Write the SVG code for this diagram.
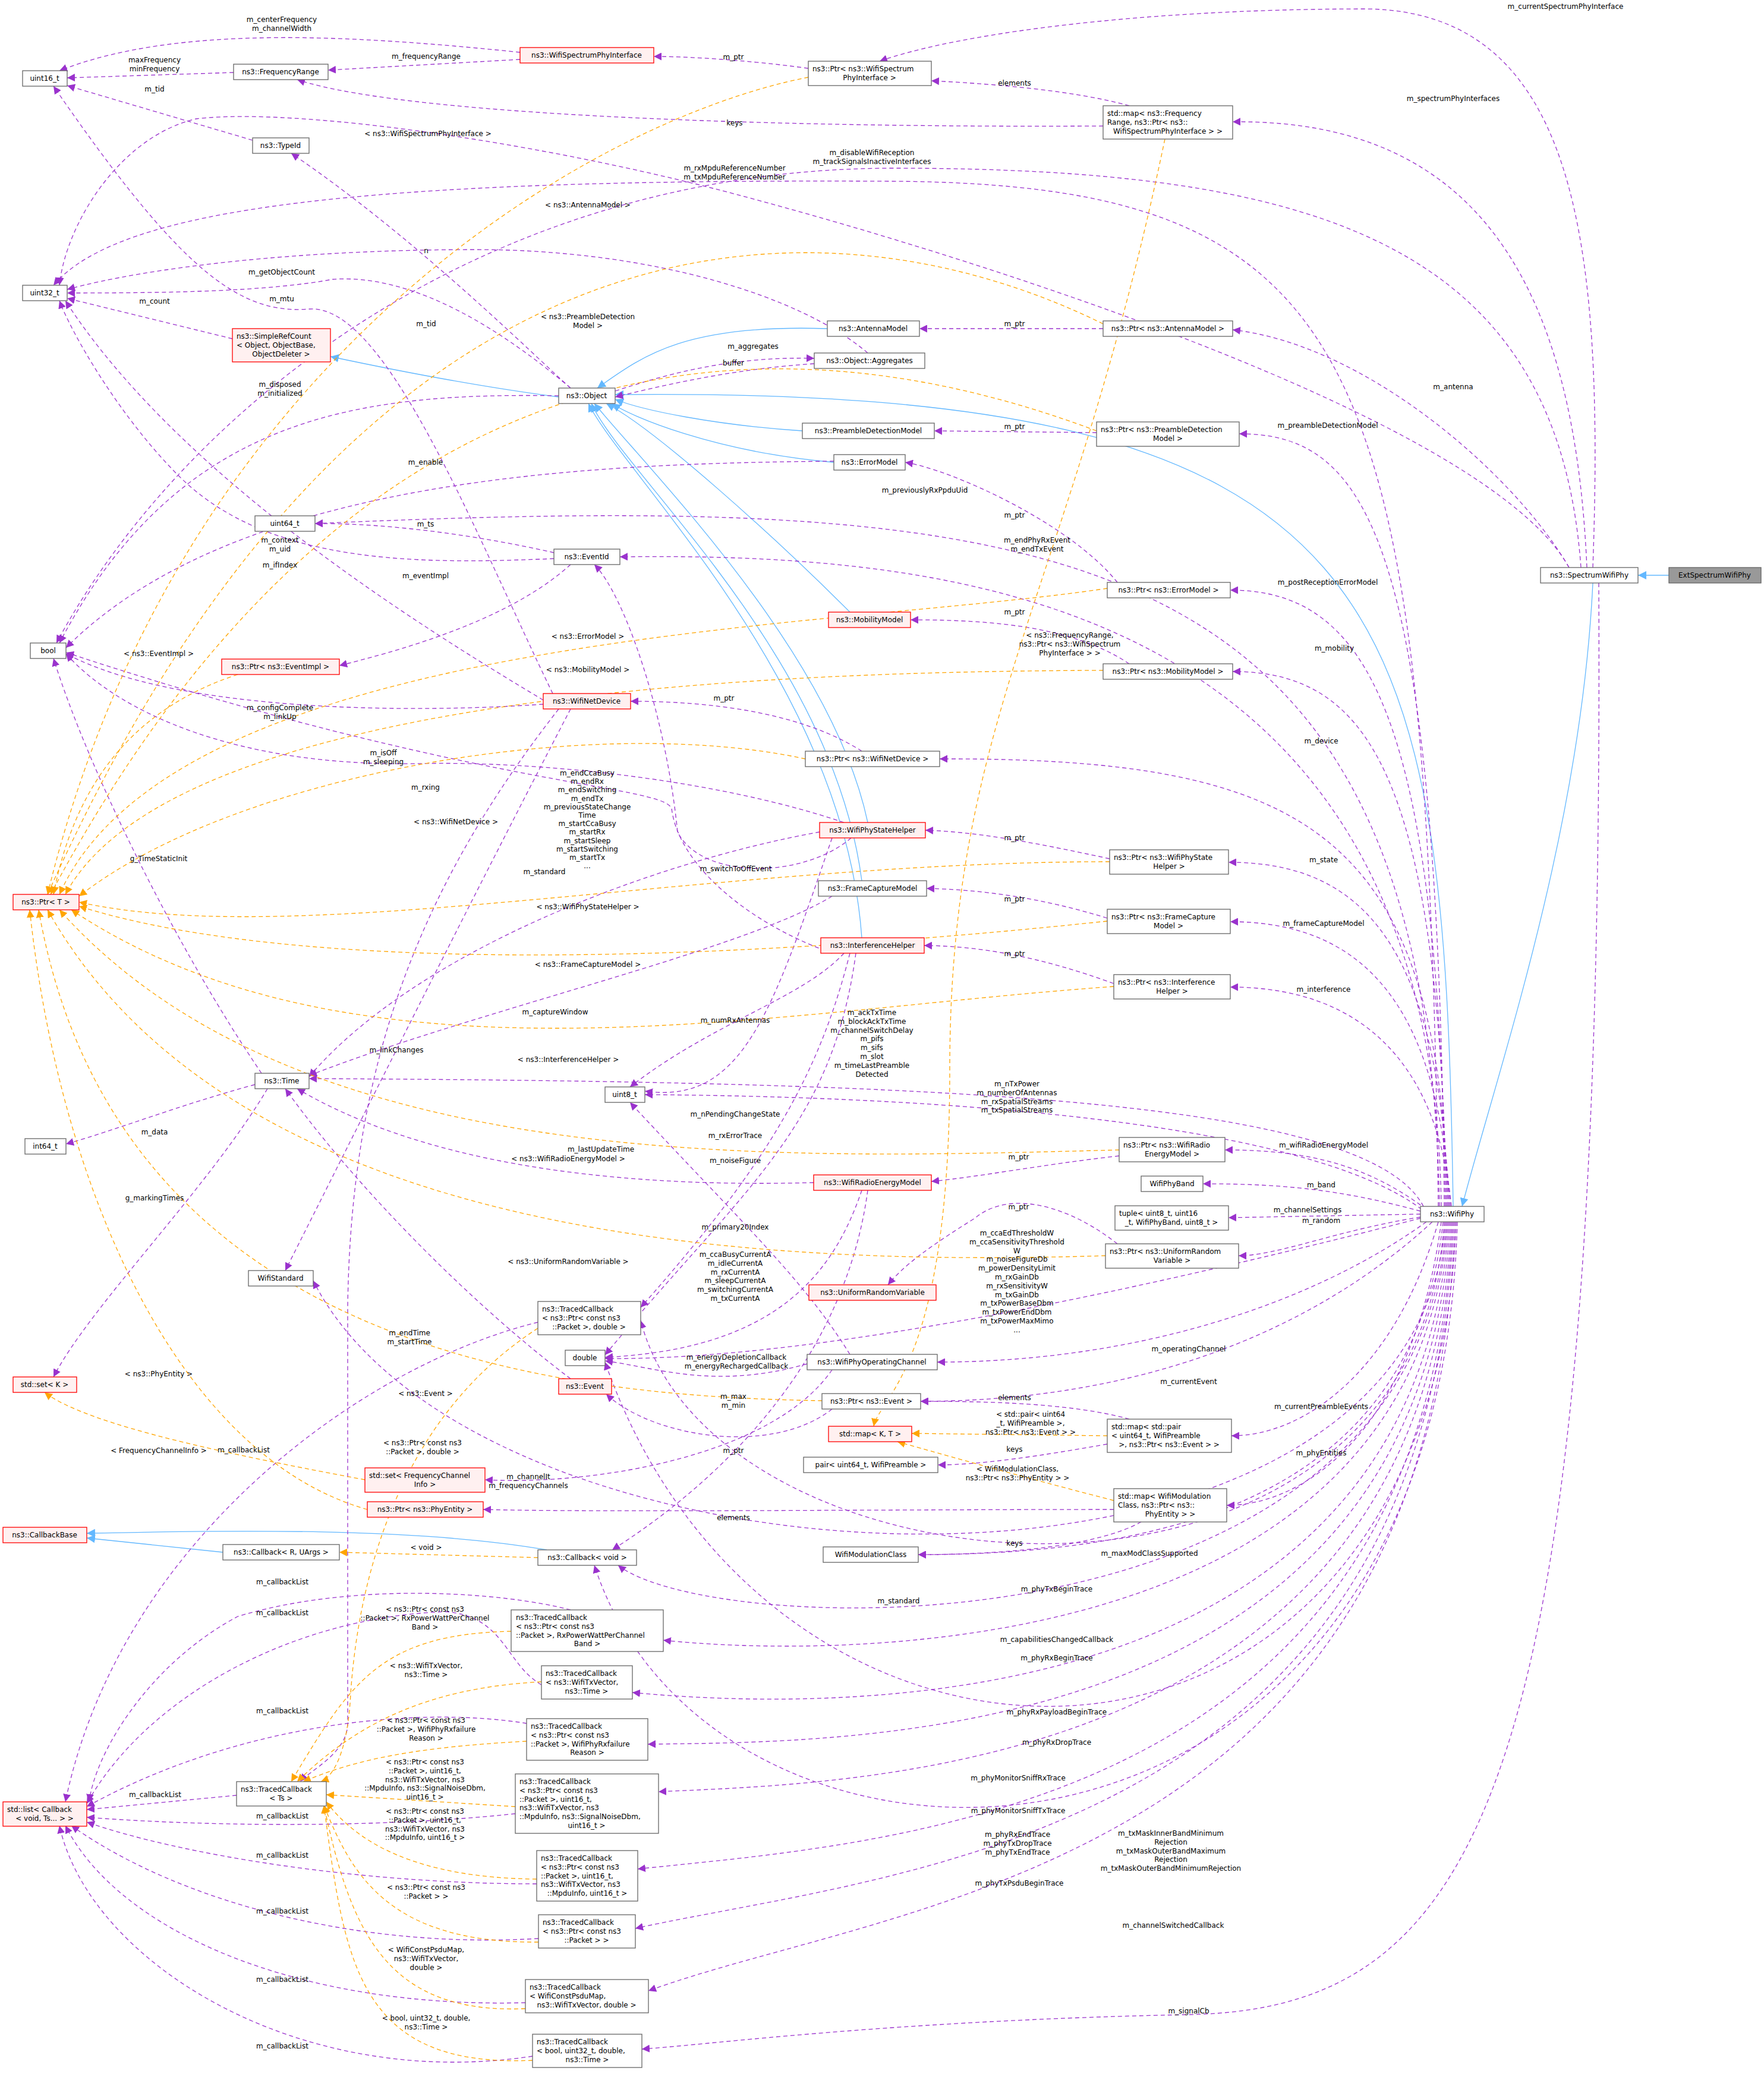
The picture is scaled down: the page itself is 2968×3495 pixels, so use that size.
<svg xmlns="http://www.w3.org/2000/svg" width="2968" height="3495" viewBox="0 0 2968 3495">
<style>
text{font-family:"DejaVu Sans",sans-serif;font-size:12px;fill:#000}
.m{text-anchor:middle}
rect.n{fill:#fff;stroke:#666;stroke-width:1.3}
rect.r{fill:#fff0f0;stroke:#f00;stroke-width:1.3}
rect.g{fill:#999;stroke:#666;stroke-width:1.3}
path.p{fill:none;stroke:#9a32cd;stroke-width:1.3;stroke-dasharray:7,5;marker-end:url(#mp)}
path.o{fill:none;stroke:#ffa500;stroke-width:1.3;stroke-dasharray:7,5;marker-end:url(#mo)}
path.b{fill:none;stroke:#63b8ff;stroke-width:1.3;marker-end:url(#mb)}
</style>
<defs>
<marker id="mp" viewBox="0 0 10 10" refX="10" refY="5" markerWidth="13" markerHeight="13" markerUnits="userSpaceOnUse" orient="auto"><path d="M0,0L10,5L0,10z" fill="#9a32cd"/></marker>
<marker id="mo" viewBox="0 0 10 10" refX="10" refY="5" markerWidth="13" markerHeight="13" markerUnits="userSpaceOnUse" orient="auto"><path d="M0,0L10,5L0,10z" fill="#ffa500"/></marker>
<marker id="mb" viewBox="0 0 10 10" refX="10" refY="5" markerWidth="14" markerHeight="14" markerUnits="userSpaceOnUse" orient="auto"><path d="M0,0L10,5L0,10z" fill="#63b8ff"/></marker>
</defs>
<rect width="2968" height="3495" fill="#fff"/>
<g id="edges">
<path class="b" d="M2808,968L2756,968"/>
<path class="b" d="M2680,981C2660,1400 2520,1800 2460,2030"/>
<path class="b" d="M2445,2030C2430,1000 2350,650 1035,664"/>
<path class="b" d="M1392,553C1150,545 1080,600 1005,653"/>
<path class="b" d="M1350,725C1200,715 1080,690 1035,672"/>
<path class="b" d="M1403,778C1200,760 1060,700 1030,679"/>
<path class="b" d="M1430,1030C1300,900 1100,720 1020,679"/>
<path class="b" d="M1460,1384C1400,1100 1100,800 1000,679"/>
<path class="b" d="M1450,1482C1400,1100 1050,800 995,679"/>
<path class="b" d="M1450,1578C1420,1150 1050,800 990,679"/>
<path class="b" d="M940,668C800,650 650,620 556,600"/>
<path class="b" d="M375,2612L146,2588"/>
<path class="b" d="M920,2608C700,2570 400,2575 146,2580"/>

<path class="p" d="M2680,955C2700,400 2650,20 2300,15C1900,15 1600,60 1480,103"/>
<path class="p" d="M2670,955C2650,500 2500,200 2074,205"/>
<path class="p" d="M2640,955C2550,800 2300,580 2074,555"/>
<path class="p" d="M2690,981C2700,3000 2500,3380 2000,3390C1500,3400 1200,3440 1080,3448"/>
<path class="p" d="M2660,955C2620,400 2200,283 1500,283C800,285 300,700 95,1082"/>
<path class="p" d="M2640,955C2500,700 1600,420 1200,317C900,240 500,180 330,200C200,230 110,380 100,480"/>
<path class="p" d="M2420,2030C2400,600 2300,310 1500,305C600,300 200,350 90,480"/>
<path class="p" d="M2430,2030C2420,900 2300,730 2085,730"/>
<path class="p" d="M2432,2030C2420,1200 2300,993 2070,993"/>
<path class="p" d="M2434,2030C2420,1300 2300,1130 2074,1130"/>
<path class="p" d="M2436,2030C2420,1400 2200,1275 1581,1277"/>
<path class="p" d="M2438,2030C2420,1600 2300,1451 2067,1451"/>
<path class="p" d="M2440,2030C2420,1700 2300,1551 2070,1551"/>
<path class="p" d="M2442,2030C2420,1800 2300,1661 2070,1661"/>
<path class="p" d="M2400,2035C2300,1960 2200,1935 2061,1935"/>
<path class="p" d="M2390,2038C2250,2000 2150,1992 2024,1992"/>
<path class="p" d="M2390,2043L2067,2049"/>
<path class="p" d="M2390,2048C2250,2070 2150,2113 2084,2113"/>
<path class="p" d="M2400,2056C2200,2200 1900,2292 1577,2292"/>
<path class="p" d="M2410,2056C2200,2250 1900,2358 1549,2358"/>
<path class="p" d="M2420,2056C2350,2300 2200,2416 2072,2416"/>
<path class="p" d="M2425,2056C2380,2400 2200,2533 2064,2533"/>
<path class="p" d="M2428,2056C2380,2500 2000,2616 1545,2616"/>
<path class="p" d="M2430,2056C2380,2800 1200,2700 1078,2222"/>
<path class="p" d="M2432,2056C2380,2780 800,2700 527,2155"/>
<path class="p" d="M2434,2056C2380,2800 1200,2760 1040,2634"/>
<path class="p" d="M2436,2056C2380,2800 1400,2790 1116,2760"/>
<path class="p" d="M2438,2056C2380,2900 1400,2880 1064,2848"/>
<path class="p" d="M2440,2056C2390,2950 1400,2930 1090,2935"/>
<path class="p" d="M2442,2056C2400,3000 1400,3000 1108,3015"/>
<path class="p" d="M2444,2056C2400,3050 1500,3100 1073,3145"/>
<path class="p" d="M2446,2056C2400,3100 1500,3150 1069,3245"/>
<path class="p" d="M2448,2056C2410,3150 1500,3200 1091,3350"/>
<path class="p" d="M2450,2056C2410,3100 1300,3100 1018,2292"/>
<path class="p" d="M2452,2056C2420,3250 1200,3250 1000,2634"/>
<path class="p" d="M2422,2030C2400,900 1800,825 530,881"/>
<path class="p" d="M2425,2030C2410,1000 1600,930 1043,937"/>
<path class="p" d="M2395,2030C2300,1850 1600,1820 520,1815"/>
<path class="p" d="M2392,2035C2200,1890 1600,1845 1085,1842"/>
<path class="p" d="M2390,2050C2000,2150 1400,2290 1018,2286"/>

<path class="p" d="M875,88C600,60 300,40 100,119"/>
<path class="p" d="M875,100L552,118"/>
<path class="p" d="M1360,115C1250,100 1150,95 1100,95"/>
<path class="p" d="M1900,178C1800,150 1650,140 1567,136"/>
<path class="p" d="M1856,212C1400,215 700,200 500,134"/>
<path class="p" d="M393,122L113,131"/>
<path class="p" d="M425,236L113,144"/>
<path class="p" d="M960,653C900,600 700,400 490,258"/>
<path class="p" d="M960,653C850,560 700,460 560,470C450,490 300,493 113,493"/>
<path class="p" d="M930,1167C800,900 650,510 520,520C400,530 300,450 90,145"/>
<path class="p" d="M391,570L113,502"/>
<path class="p" d="M1460,594C1350,500 1100,420 800,420C500,420 250,450 113,487"/>
<path class="p" d="M1035,658C1150,620 1250,600 1370,603"/>
<path class="p" d="M1370,612C1250,620 1150,640 1035,668"/>
<path class="p" d="M940,666C600,660 300,700 100,1082"/>
<path class="p" d="M1403,776C1000,780 400,800 111,1090"/>
<path class="p" d="M932,930C800,900 650,880 530,881"/>
<path class="p" d="M932,940C700,950 450,950 300,800C200,700 120,560 100,506"/>
<path class="p" d="M960,950C850,1050 650,1100 571,1120"/>
<path class="p" d="M914,1178C700,1050 300,800 110,506"/>
<path class="p" d="M914,1185C700,1200 300,1200 111,1100"/>
<path class="p" d="M1420,1384C1200,1310 900,1280 700,1285C400,1290 200,1200 111,1100"/>
<path class="p" d="M1400,1604C1250,1550 1140,1450 1130,1360C1110,1320 800,1325 111,1098"/>
<path class="p" d="M1379,1400C1100,1450 700,1600 520,1812"/>
<path class="p" d="M1432,1410C1350,1480 1180,1480 1140,1400C1120,1200 1050,1000 1000,950"/>
<path class="p" d="M1450,1264C1350,1200 1200,1180 1061,1180"/>
<path class="p" d="M1856,553L1547,553"/>
<path class="p" d="M1845,728L1572,725"/>
<path class="p" d="M1880,980C1800,880 1600,790 1523,778"/>
<path class="p" d="M1900,1117C1800,1050 1650,1043 1532,1043"/>
<path class="p" d="M1867,1445C1750,1420 1650,1400 1557,1397"/>
<path class="p" d="M1863,1545C1750,1510 1650,1497 1559,1495"/>
<path class="p" d="M1874,1655C1750,1610 1650,1592 1555,1591"/>
<path class="p" d="M1883,1945C1750,1960 1650,1980 1567,1988"/>
<path class="p" d="M1880,2093C1800,2030 1700,2000 1640,2050C1560,2100 1520,2130 1494,2162"/>
<path class="p" d="M1400,1508C1250,1600 800,1700 520,1810"/>
<path class="p" d="M1420,1604C1350,1680 1200,1720 1060,1829"/>
<path class="p" d="M1400,1410C1300,1700 1250,1860 1085,1836"/>
<path class="p" d="M1430,1604C1380,1800 1300,1950 1078,2200"/>
<path class="p" d="M1440,1604C1400,1900 1250,2000 1018,2280"/>
<path class="p" d="M1369,1990C1000,2000 700,1950 500,1832"/>
<path class="p" d="M1450,2003C1400,2150 1300,2270 1018,2284"/>
<path class="p" d="M1460,2003C1420,2300 1200,2500 1030,2608"/>
<path class="p" d="M1430,2279C1350,2150 1250,2060 1060,1855"/>
<path class="p" d="M1400,2305C1300,2450 1000,2500 816,2490"/>
<path class="p" d="M1358,2295C1200,2340 1100,2300 1018,2290"/>
<path class="p" d="M960,2320C800,2200 600,2000 480,1832"/>
<path class="p" d="M1400,2371C1300,2450 1100,2420 1020,2346"/>
<path class="p" d="M1900,2388C1800,2360 1650,2358 1549,2358"/>
<path class="p" d="M1863,2430C1750,2450 1650,2465 1578,2465"/>
<path class="p" d="M1874,2540C1500,2540 1000,2545 813,2540"/>
<path class="p" d="M1920,2561C1850,2600 1700,2616 1545,2616"/>
<path class="p" d="M960,1193C800,1500 600,1900 480,2138"/>
<path class="p" d="M940,1193C700,1500 590,1800 585,2200L585,2900C585,2950 520,2980 505,2998"/>
<path class="p" d="M440,1806C300,1600 150,1300 90,1108"/>
<path class="p" d="M429,1825C300,1860 200,1900 111,1925"/>
<path class="p" d="M450,1832C350,2000 150,2200 90,2317"/>
<path class="p" d="M905,2225C600,2300 200,2600 110,3032"/>
<path class="p" d="M960,2709C850,2680 600,2660 400,2720C250,2800 160,2950 150,3032"/>
<path class="p" d="M911,2835C850,2800 850,2720 750,2712C500,2720 250,2850 146,3035"/>
<path class="p" d="M886,2900C700,2870 400,2900 146,3040"/>
<path class="p" d="M398,3021L146,3045"/>
<path class="p" d="M867,3052C600,3080 300,3070 146,3058"/>
<path class="p" d="M903,3170C600,3170 300,3120 146,3066"/>
<path class="p" d="M906,3262C600,3280 300,3200 120,3072"/>
<path class="p" d="M884,3370C500,3380 200,3250 110,3072"/>
<path class="p" d="M896,3460C500,3520 150,3300 100,3072"/>

<path class="o" d="M1360,130C1000,200 300,600 80,1505"/>
<path class="o" d="M1856,545C1400,320 620,300 80,1505"/>
<path class="o" d="M1845,725C1300,520 600,540 85,1505"/>
<path class="o" d="M1863,990C1400,1060 300,1060 100,1505"/>
<path class="o" d="M1856,1128C1400,1130 300,1150 110,1505"/>
<path class="o" d="M400,1135C200,1200 120,1350 90,1505"/>
<path class="o" d="M1355,1277C1000,1200 400,1300 133,1508"/>
<path class="o" d="M1867,1450C1200,1450 500,1600 133,1518"/>
<path class="o" d="M1863,1550C1200,1620 500,1640 133,1525"/>
<path class="o" d="M1874,1660C1300,1700 600,1850 120,1531"/>
<path class="o" d="M1883,1935C1300,1950 500,1980 100,1531"/>
<path class="o" d="M1860,2113C1300,2130 400,2100 80,1531"/>
<path class="o" d="M1383,2357C1000,2350 200,2300 65,1531"/>
<path class="o" d="M618,2540C300,2450 100,2000 50,1531"/>
<path class="o" d="M614,2490C400,2450 150,2400 75,2343"/>
<path class="o" d="M1960,234C1800,1000 1598,1200 1598,1800C1598,2300 1480,2350 1470,2400"/>
<path class="o" d="M1863,2416L1534,2412"/>
<path class="o" d="M1874,2525C1700,2480 1560,2440 1510,2426"/>
<path class="o" d="M905,2621L571,2612"/>
<path class="o" d="M905,2235C650,2400 600,2700 590,2850C585,2950 560,2990 540,2998"/>
<path class="o" d="M860,2745C640,2750 590,2830 490,2998"/>
<path class="o" d="M911,2830C720,2840 600,2900 500,2998"/>
<path class="o" d="M886,2930C700,2940 600,2960 510,2998"/>
<path class="o" d="M867,3040L549,3020"/>
<path class="o" d="M903,3162C700,3160 600,3100 549,3032"/>
<path class="o" d="M906,3268C650,3270 590,3150 545,3038"/>
<path class="o" d="M884,3380C650,3390 590,3250 545,3038"/>
<path class="o" d="M896,3467C600,3480 580,3300 545,3038"/>
</g>
<g id="labels">
<text class="m" x="2634" y="15">m_currentSpectrumPhyInterface</text>
<text class="m" x="2445" y="170">m_spectrumPhyInterfaces</text>
<text class="m" x="2445" y="655">m_antenna</text>
<text class="m" x="2000" y="3388">m_signalCb</text>
<text class="m" x="1467" y="261">m_disableWifiReception<tspan x="1467" dy="14.8">m_trackSignalsInactiveInterfaces</tspan></text>
<text class="m" x="720" y="229">&lt; ns3::WifiSpectrumPhyInterface &gt;</text>
<text class="m" x="1236" y="287">m_rxMpduReferenceNumber<tspan x="1236" dy="14.8">m_txMpduReferenceNumber</tspan></text>
<text class="m" x="2234" y="720">m_preambleDetectionModel</text>
<text class="m" x="2234" y="984">m_postReceptionErrorModel</text>
<text class="m" x="2245" y="1095">m_mobility</text>
<text class="m" x="2223" y="1251">m_device</text>
<text class="m" x="2227" y="1451">m_state</text>
<text class="m" x="2227" y="1558">m_frameCaptureModel</text>
<text class="m" x="2227" y="1669">m_interference</text>
<text class="m" x="2227" y="1931">m_wifiRadioEnergyModel</text>
<text class="m" x="2223" y="1998">m_band</text>
<text class="m" x="2200" y="2040">m_channelSettings</text>
<text class="m" x="2223" y="2058">m_random</text>
<text class="m" x="2000" y="2274">m_operatingChannel</text>
<text class="m" x="2000" y="2329">m_currentEvent</text>
<text class="m" x="2223" y="2371">m_currentPreambleEvents</text>
<text class="m" x="2223" y="2449">m_phyEntities</text>
<text class="m" x="1934" y="2618">m_maxModClassSupported</text>
<text class="m" x="1778" y="2678">m_phyTxBeginTrace</text>
<text class="m" x="1512" y="2698">m_standard</text>
<text class="m" x="1778" y="2763">m_capabilitiesChangedCallback</text>
<text class="m" x="1778" y="2794">m_phyRxBeginTrace</text>
<text class="m" x="1778" y="2885">m_phyRxPayloadBeginTrace</text>
<text class="m" x="1778" y="2936">m_phyRxDropTrace</text>
<text class="m" x="1713" y="2996">m_phyMonitorSniffRxTrace</text>
<text class="m" x="1713" y="3051">m_phyMonitorSniffTxTrace</text>
<text class="m" x="1970" y="3089">m_txMaskInnerBandMinimum<tspan x="1970" dy="14.8">Rejection</tspan><tspan x="1970" dy="14.8">m_txMaskOuterBandMaximum</tspan><tspan x="1970" dy="14.8">Rejection</tspan><tspan x="1970" dy="14.8">m_txMaskOuterBandMinimumRejection</tspan></text>
<text class="m" x="1712" y="3091">m_phyRxEndTrace<tspan x="1712" dy="14.8">m_phyTxDropTrace</tspan><tspan x="1712" dy="14.8">m_phyTxEndTrace</tspan></text>
<text class="m" x="1715" y="3173">m_phyTxPsduBeginTrace</text>
<text class="m" x="1974" y="3244">m_channelSwitchedCallback</text>
<text class="m" x="1556" y="829">m_previouslyRxPpduUid</text>
<text class="m" x="1745" y="913">m_endPhyRxEvent<tspan x="1745" dy="14.8">m_endTxEvent</tspan></text>
<text class="m" x="1467" y="1708">m_ackTxTime<tspan x="1467" dy="14.8">m_blockAckTxTime</tspan><tspan x="1467" dy="14.8">m_channelSwitchDelay</tspan><tspan x="1467" dy="14.8">m_pifs</tspan><tspan x="1467" dy="14.8">m_sifs</tspan><tspan x="1467" dy="14.8">m_slot</tspan><tspan x="1467" dy="14.8">m_timeLastPreamble</tspan><tspan x="1467" dy="14.8">Detected</tspan></text>
<text class="m" x="1711" y="1828">m_nTxPower<tspan x="1711" dy="14.8">m_numberOfAntennas</tspan><tspan x="1711" dy="14.8">m_rxSpatialStreams</tspan><tspan x="1711" dy="14.8">m_txSpatialStreams</tspan></text>
<text class="m" x="1711" y="2079">m_ccaEdThresholdW<tspan x="1711" dy="14.8">m_ccaSensitivityThreshold</tspan><tspan x="1711" dy="14.8">W</tspan><tspan x="1711" dy="14.8">m_noiseFigureDb</tspan><tspan x="1711" dy="14.8">m_powerDensityLimit</tspan><tspan x="1711" dy="14.8">m_rxGainDb</tspan><tspan x="1711" dy="14.8">m_rxSensitivityW</tspan><tspan x="1711" dy="14.8">m_txGainDb</tspan><tspan x="1711" dy="14.8">m_txPowerBaseDbm</tspan><tspan x="1711" dy="14.8">m_txPowerEndDbm</tspan><tspan x="1711" dy="14.8">m_txPowerMaxMimo</tspan><tspan x="1711" dy="14.8">...</tspan></text>
<text class="m" x="474" y="37">m_centerFrequency<tspan x="474" dy="14.8">m_channelWidth</tspan></text>
<text class="m" x="717" y="99">m_frequencyRange</text>
<text class="m" x="1234" y="100">m_ptr</text>
<text class="m" x="1707" y="144">elements</text>
<text class="m" x="1236" y="211">keys</text>
<text class="m" x="260" y="105">maxFrequency<tspan x="260" dy="14.8">minFrequency</tspan></text>
<text class="m" x="260" y="154">m_tid</text>
<text class="m" x="717" y="549">m_tid</text>
<text class="m" x="474" y="462">m_getObjectCount</text>
<text class="m" x="474" y="507">m_mtu</text>
<text class="m" x="260" y="511">m_count</text>
<text class="m" x="717" y="426">n</text>
<text class="m" x="1267" y="587">m_aggregates</text>
<text class="m" x="1234" y="615">buffer</text>
<text class="m" x="471" y="651">m_disposed<tspan x="471" dy="14.8">m_initialized</tspan></text>
<text class="m" x="716" y="782">m_enable</text>
<text class="m" x="716" y="886">m_ts</text>
<text class="m" x="471" y="913">m_context<tspan x="471" dy="14.8">m_uid</tspan></text>
<text class="m" x="716" y="973">m_eventImpl</text>
<text class="m" x="471" y="955">m_ifIndex</text>
<text class="m" x="471" y="1195">m_configComplete<tspan x="471" dy="14.8">m_linkUp</tspan></text>
<text class="m" x="645" y="1271">m_isOff<tspan x="645" dy="14.8">m_sleeping</tspan></text>
<text class="m" x="716" y="1329">m_rxing</text>
<text class="m" x="988" y="1305">m_endCcaBusy<tspan x="988" dy="14.2">m_endRx</tspan><tspan x="988" dy="14.2">m_endSwitching</tspan><tspan x="988" dy="14.2">m_endTx</tspan><tspan x="988" dy="14.2">m_previousStateChange</tspan><tspan x="988" dy="14.2">Time</tspan><tspan x="988" dy="14.2">m_startCcaBusy</tspan><tspan x="988" dy="14.2">m_startRx</tspan><tspan x="988" dy="14.2">m_startSleep</tspan><tspan x="988" dy="14.2">m_startSwitching</tspan><tspan x="988" dy="14.2">m_startTx</tspan><tspan x="988" dy="14.2">...</tspan></text>
<text class="m" x="1238" y="1466">m_switchToOffEvent</text>
<text class="m" x="1218" y="1179">m_ptr</text>
<text class="m" x="1707" y="549">m_ptr</text>
<text class="m" x="1707" y="722">m_ptr</text>
<text class="m" x="1707" y="871">m_ptr</text>
<text class="m" x="1707" y="1034">m_ptr</text>
<text class="m" x="1707" y="1414">m_ptr</text>
<text class="m" x="1707" y="1517">m_ptr</text>
<text class="m" x="1707" y="1609">m_ptr</text>
<text class="m" x="1714" y="1951">m_ptr</text>
<text class="m" x="1714" y="2035">m_ptr</text>
<text class="m" x="934" y="1707">m_captureWindow</text>
<text class="m" x="1237" y="1721">m_numRxAntennas</text>
<text class="m" x="1237" y="1879">m_nPendingChangeState</text>
<text class="m" x="1237" y="1915">m_rxErrorTrace</text>
<text class="m" x="1237" y="1957">m_noiseFigure</text>
<text class="m" x="1011" y="1938">m_lastUpdateTime</text>
<text class="m" x="1237" y="2115">m_ccaBusyCurrentA<tspan x="1237" dy="14.8">m_idleCurrentA</tspan><tspan x="1237" dy="14.8">m_rxCurrentA</tspan><tspan x="1237" dy="14.8">m_sleepCurrentA</tspan><tspan x="1237" dy="14.8">m_switchingCurrentA</tspan><tspan x="1237" dy="14.8">m_txCurrentA</tspan></text>
<text class="m" x="1239" y="2288">m_energyDepletionCallback<tspan x="1239" dy="14.8">m_energyRechargedCallback</tspan></text>
<text class="m" x="1237" y="2069">m_primary20Index</text>
<text class="m" x="889" y="2489">m_channelIt<tspan x="889" dy="14.8">m_frequencyChannels</tspan></text>
<text class="m" x="1234" y="2354">m_max<tspan x="1234" dy="14.8">m_min</tspan></text>
<text class="m" x="689" y="2247">m_endTime<tspan x="689" dy="14.8">m_startTime</tspan></text>
<text class="m" x="1234" y="2445">m_ptr</text>
<text class="m" x="1707" y="2356">elements</text>
<text class="m" x="1707" y="2443">keys</text>
<text class="m" x="1234" y="2558">elements</text>
<text class="m" x="1707" y="2601">keys</text>
<text class="m" x="916" y="1471">m_standard</text>
<text class="m" x="667" y="1771">m_linkChanges</text>
<text class="m" x="267" y="1449">g_TimeStaticInit</text>
<text class="m" x="260" y="1909">m_data</text>
<text class="m" x="260" y="2020">g_markingTimes</text>
<text class="m" x="410" y="2444">m_callbackList</text>
<text class="m" x="475" y="2666">m_callbackList</text>
<text class="m" x="475" y="2718">m_callbackList</text>
<text class="m" x="475" y="2883">m_callbackList</text>
<text class="m" x="261" y="3024">m_callbackList</text>
<text class="m" x="475" y="3060">m_callbackList</text>
<text class="m" x="475" y="3126">m_callbackList</text>
<text class="m" x="475" y="3220">m_callbackList</text>
<text class="m" x="475" y="3335">m_callbackList</text>
<text class="m" x="475" y="3447">m_callbackList</text>
<text class="m" x="989" y="349">&lt; ns3::AntennaModel &gt;</text>
<text class="m" x="989" y="537">&lt; ns3::PreambleDetection<tspan x="989" dy="14.8">Model &gt;</tspan></text>
<text class="m" x="989" y="1075">&lt; ns3::ErrorModel &gt;</text>
<text class="m" x="989" y="1131">&lt; ns3::MobilityModel &gt;</text>
<text class="m" x="267" y="1104">&lt; ns3::EventImpl &gt;</text>
<text class="m" x="767" y="1387">&lt; ns3::WifiNetDevice &gt;</text>
<text class="m" x="989" y="1530">&lt; ns3::WifiPhyStateHelper &gt;</text>
<text class="m" x="989" y="1627">&lt; ns3::FrameCaptureModel &gt;</text>
<text class="m" x="956" y="1787">&lt; ns3::InterferenceHelper &gt;</text>
<text class="m" x="956" y="1954">&lt; ns3::WifiRadioEnergyModel &gt;</text>
<text class="m" x="956" y="2127">&lt; ns3::UniformRandomVariable &gt;</text>
<text class="m" x="716" y="2349">&lt; ns3::Event &gt;</text>
<text class="m" x="267" y="2316">&lt; ns3::PhyEntity &gt;</text>
<text class="m" x="267" y="2445">&lt; FrequencyChannelInfo &gt;</text>
<text class="m" x="1800" y="1073">&lt; ns3::FrequencyRange,<tspan x="1800" dy="14.8">ns3::Ptr&lt; ns3::WifiSpectrum</tspan><tspan x="1800" dy="14.8">PhyInterface &gt; &gt;</tspan></text>
<text class="m" x="1734" y="2384">&lt; std::pair&lt; uint64<tspan x="1734" dy="14.8">_t, WifiPreamble &gt;,</tspan><tspan x="1734" dy="14.8">ns3::Ptr&lt; ns3::Event &gt; &gt;</tspan></text>
<text class="m" x="1712" y="2476">&lt; WifiModulationClass,<tspan x="1712" dy="14.8">ns3::Ptr&lt; ns3::PhyEntity &gt; &gt;</tspan></text>
<text class="m" x="717" y="2608">&lt; void &gt;</text>
<text class="m" x="711" y="2432">&lt; ns3::Ptr&lt; const ns3<tspan x="711" dy="14.8">::Packet &gt;, double &gt;</tspan></text>
<text class="m" x="715" y="2712">&lt; ns3::Ptr&lt; const ns3<tspan x="715" dy="14.8">::Packet &gt;, RxPowerWattPerChannel</tspan><tspan x="715" dy="14.8">Band &gt;</tspan></text>
<text class="m" x="717" y="2807">&lt; ns3::WifiTxVector,<tspan x="717" dy="14.8">ns3::Time &gt;</tspan></text>
<text class="m" x="717" y="2899">&lt; ns3::Ptr&lt; const ns3<tspan x="717" dy="14.8">::Packet &gt;, WifiPhyRxfailure</tspan><tspan x="717" dy="14.8">Reason &gt;</tspan></text>
<text class="m" x="715" y="2969">&lt; ns3::Ptr&lt; const ns3<tspan x="715" dy="14.8">::Packet &gt;, uint16_t,</tspan><tspan x="715" dy="14.8">ns3::WifiTxVector, ns3</tspan><tspan x="715" dy="14.8">::MpduInfo, ns3::SignalNoiseDbm,</tspan><tspan x="715" dy="14.8">uint16_t &gt;</tspan></text>
<text class="m" x="715" y="3052">&lt; ns3::Ptr&lt; const ns3<tspan x="715" dy="14.8">::Packet &gt;, uint16_t,</tspan><tspan x="715" dy="14.8">ns3::WifiTxVector, ns3</tspan><tspan x="715" dy="14.8">::MpduInfo, uint16_t &gt;</tspan></text>
<text class="m" x="717" y="3180">&lt; ns3::Ptr&lt; const ns3<tspan x="717" dy="14.8">::Packet &gt; &gt;</tspan></text>
<text class="m" x="717" y="3285">&lt; WifiConstPsduMap,<tspan x="717" dy="14.8">ns3::WifiTxVector,</tspan><tspan x="717" dy="14.8">double &gt;</tspan></text>
<text class="m" x="717" y="3400">&lt; bool, uint32_t, double,<tspan x="717" dy="14.8">ns3::Time &gt;</tspan></text>
</g>
<g id="ext"><rect class="g" x="2808" y="955" width="155" height="26"/><text class="m" x="2885" y="972">ExtSpectrumWifiPhy</text></g>
<g id="spec"><rect class="n" x="2592" y="955" width="164" height="26"/><text class="m" x="2674" y="972">ns3::SpectrumWifiPhy</text></g>
<g id="wifiphy"><rect class="n" x="2390" y="2030" width="107" height="26"/><text class="m" x="2443" y="2047">ns3::WifiPhy</text></g>
<g id="ptrwspi"><rect class="n" x="1360" y="103" width="207" height="41"/><text x="1367" y="120">ns3::Ptr&lt; ns3::WifiSpectrum</text><text class="m" x="1463" y="135">PhyInterface &gt;</text></g>
<g id="mapfr"><rect class="n" x="1856" y="178" width="218" height="56"/><text x="1863" y="195">std::map&lt; ns3::Frequency</text><text x="1863" y="210">Range, ns3::Ptr&lt; ns3::</text><text class="m" x="1965" y="225">WifiSpectrumPhyInterface &gt; &gt;</text></g>
<g id="ptrant"><rect class="n" x="1856" y="540" width="218" height="26"/><text class="m" x="1965" y="557">ns3::Ptr&lt; ns3::AntennaModel &gt;</text></g>
<g id="ptrpdm"><rect class="n" x="1845" y="710" width="240" height="41"/><text x="1852" y="727">ns3::Ptr&lt; ns3::PreambleDetection</text><text class="m" x="1965" y="742">Model &gt;</text></g>
<g id="ptrerr"><rect class="n" x="1863" y="980" width="207" height="26"/><text class="m" x="1966" y="997">ns3::Ptr&lt; ns3::ErrorModel &gt;</text></g>
<g id="ptrmob"><rect class="n" x="1856" y="1117" width="218" height="26"/><text class="m" x="1965" y="1134">ns3::Ptr&lt; ns3::MobilityModel &gt;</text></g>
<g id="ptrdev"><rect class="n" x="1355" y="1264" width="226" height="26"/><text class="m" x="1468" y="1281">ns3::Ptr&lt; ns3::WifiNetDevice &gt;</text></g>
<g id="ptrpsh"><rect class="n" x="1867" y="1430" width="200" height="41"/><text x="1874" y="1447">ns3::Ptr&lt; ns3::WifiPhyState</text><text class="m" x="1967" y="1462">Helper &gt;</text></g>
<g id="ptrfcm"><rect class="n" x="1863" y="1530" width="207" height="41"/><text x="1870" y="1547">ns3::Ptr&lt; ns3::FrameCapture</text><text class="m" x="1966" y="1562">Model &gt;</text></g>
<g id="ptrih"><rect class="n" x="1874" y="1640" width="196" height="41"/><text x="1881" y="1657">ns3::Ptr&lt; ns3::Interference</text><text class="m" x="1972" y="1672">Helper &gt;</text></g>
<g id="ptrwrem"><rect class="n" x="1883" y="1914" width="178" height="41"/><text x="1890" y="1931">ns3::Ptr&lt; ns3::WifiRadio</text><text class="m" x="1972" y="1946">EnergyModel &gt;</text></g>
<g id="band"><rect class="n" x="1920" y="1979" width="104" height="26"/><text class="m" x="1972" y="1996">WifiPhyBand</text></g>
<g id="tuple"><rect class="n" x="1876" y="2029" width="191" height="41"/><text x="1883" y="2046">tuple&lt; uint8_t, uint16</text><text class="m" x="1971" y="2061">_t, WifiPhyBand, uint8_t &gt;</text></g>
<g id="ptrurv"><rect class="n" x="1860" y="2093" width="224" height="41"/><text x="1867" y="2110">ns3::Ptr&lt; ns3::UniformRandom</text><text class="m" x="1972" y="2125">Variable &gt;</text></g>
<g id="mappair"><rect class="n" x="1863" y="2388" width="209" height="56"/><text x="1870" y="2405">std::map&lt; std::pair</text><text x="1870" y="2420">&lt; uint64_t, WifiPreamble</text><text class="m" x="1967" y="2435">&gt;, ns3::Ptr&lt; ns3::Event &gt; &gt;</text></g>
<g id="mapwmc"><rect class="n" x="1874" y="2505" width="190" height="56"/><text x="1881" y="2522">std::map&lt; WifiModulation</text><text x="1881" y="2537">Class, ns3::Ptr&lt; ns3::</text><text class="m" x="1969" y="2552">PhyEntity &gt; &gt;</text></g>
<g id="wspi"><rect class="r" x="875" y="80" width="225" height="26"/><text class="m" x="987" y="97">ns3::WifiSpectrumPhyInterface</text></g>
<g id="fr"><rect class="n" x="393" y="108" width="159" height="26"/><text class="m" x="472" y="125">ns3::FrequencyRange</text></g>
<g id="typeid"><rect class="n" x="425" y="232" width="95" height="26"/><text class="m" x="472" y="249">ns3::TypeId</text></g>
<g id="u16"><rect class="n" x="38" y="119" width="75" height="26"/><text class="m" x="75" y="136">uint16_t</text></g>
<g id="u32"><rect class="n" x="38" y="480" width="75" height="26"/><text class="m" x="75" y="497">uint32_t</text></g>
<g id="src"><rect class="r" x="391" y="553" width="165" height="56"/><text x="398" y="570">ns3::SimpleRefCount</text><text x="398" y="585">&lt; Object, ObjectBase,</text><text class="m" x="473" y="600">ObjectDeleter &gt;</text></g>
<g id="object"><rect class="n" x="940" y="653" width="95" height="26"/><text class="m" x="987" y="670">ns3::Object</text></g>
<g id="antenna"><rect class="n" x="1392" y="540" width="155" height="26"/><text class="m" x="1469" y="557">ns3::AntennaModel</text></g>
<g id="aggr"><rect class="n" x="1370" y="594" width="186" height="26"/><text class="m" x="1463" y="611">ns3::Object::Aggregates</text></g>
<g id="pdm"><rect class="n" x="1350" y="712" width="222" height="26"/><text class="m" x="1461" y="729">ns3::PreambleDetectionModel</text></g>
<g id="err"><rect class="n" x="1403" y="765" width="120" height="26"/><text class="m" x="1463" y="782">ns3::ErrorModel</text></g>
<g id="u64"><rect class="n" x="429" y="868" width="101" height="26"/><text class="m" x="479" y="885">uint64_t</text></g>
<g id="eventid"><rect class="n" x="932" y="924" width="111" height="26"/><text class="m" x="987" y="941">ns3::EventId</text></g>
<g id="mob"><rect class="r" x="1394" y="1030" width="138" height="26"/><text class="m" x="1463" y="1047">ns3::MobilityModel</text></g>
<g id="bool"><rect class="n" x="51" y="1082" width="60" height="26"/><text class="m" x="81" y="1099">bool</text></g>
<g id="ptrei"><rect class="r" x="373" y="1109" width="198" height="26"/><text class="m" x="472" y="1126">ns3::Ptr&lt; ns3::EventImpl &gt;</text></g>
<g id="netdev"><rect class="r" x="914" y="1167" width="147" height="26"/><text class="m" x="987" y="1184">ns3::WifiNetDevice</text></g>
<g id="ptrT"><rect class="r" x="22" y="1505" width="111" height="26"/><text class="m" x="77" y="1522">ns3::Ptr&lt; T &gt;</text></g>
<g id="psh"><rect class="r" x="1379" y="1384" width="178" height="26"/><text class="m" x="1468" y="1401">ns3::WifiPhyStateHelper</text></g>
<g id="fcm"><rect class="n" x="1377" y="1482" width="182" height="26"/><text class="m" x="1468" y="1499">ns3::FrameCaptureModel</text></g>
<g id="ih"><rect class="r" x="1381" y="1578" width="174" height="26"/><text class="m" x="1468" y="1595">ns3::InterferenceHelper</text></g>
<g id="time"><rect class="n" x="429" y="1806" width="91" height="26"/><text class="m" x="474" y="1823">ns3::Time</text></g>
<g id="u8"><rect class="n" x="1018" y="1829" width="67" height="26"/><text class="m" x="1051" y="1846">uint8_t</text></g>
<g id="i64"><rect class="n" x="42" y="1916" width="69" height="26"/><text class="m" x="76" y="1933">int64_t</text></g>
<g id="wrem"><rect class="r" x="1369" y="1977" width="198" height="26"/><text class="m" x="1468" y="1994">ns3::WifiRadioEnergyModel</text></g>
<g id="wstd"><rect class="n" x="418" y="2138" width="109" height="26"/><text class="m" x="472" y="2155">WifiStandard</text></g>
<g id="urv"><rect class="r" x="1361" y="2162" width="214" height="26"/><text class="m" x="1468" y="2179">ns3::UniformRandomVariable</text></g>
<g id="tcpd"><rect class="n" x="905" y="2190" width="173" height="56"/><text x="912" y="2207">ns3::TracedCallback</text><text x="912" y="2222">&lt; ns3::Ptr&lt; const ns3</text><text class="m" x="991" y="2237">::Packet &gt;, double &gt;</text></g>
<g id="double"><rect class="n" x="951" y="2272" width="67" height="26"/><text class="m" x="984" y="2289">double</text></g>
<g id="wpoc"><rect class="n" x="1358" y="2279" width="219" height="26"/><text class="m" x="1467" y="2296">ns3::WifiPhyOperatingChannel</text></g>
<g id="event"><rect class="r" x="940" y="2320" width="89" height="26"/><text class="m" x="984" y="2337">ns3::Event</text></g>
<g id="ptrev"><rect class="n" x="1383" y="2345" width="166" height="26"/><text class="m" x="1466" y="2362">ns3::Ptr&lt; ns3::Event &gt;</text></g>
<g id="mapkt"><rect class="r" x="1394" y="2400" width="140" height="26"/><text class="m" x="1464" y="2417">std::map&lt; K, T &gt;</text></g>
<g id="setk"><rect class="r" x="22" y="2317" width="107" height="26"/><text class="m" x="75" y="2334">std::set&lt; K &gt;</text></g>
<g id="pair"><rect class="n" x="1352" y="2452" width="226" height="26"/><text class="m" x="1465" y="2469">pair&lt; uint64_t, WifiPreamble &gt;</text></g>
<g id="setfci"><rect class="r" x="614" y="2470" width="202" height="41"/><text x="621" y="2487">std::set&lt; FrequencyChannel</text><text class="m" x="715" y="2502">Info &gt;</text></g>
<g id="ptrpe"><rect class="r" x="618" y="2527" width="195" height="26"/><text class="m" x="715" y="2544">ns3::Ptr&lt; ns3::PhyEntity &gt;</text></g>
<g id="cbbase"><rect class="r" x="5" y="2570" width="141" height="26"/><text class="m" x="75" y="2587">ns3::CallbackBase</text></g>
<g id="cbru"><rect class="n" x="375" y="2599" width="196" height="26"/><text class="m" x="473" y="2616">ns3::Callback&lt; R, UArgs &gt;</text></g>
<g id="cbvoid"><rect class="n" x="905" y="2608" width="166" height="26"/><text class="m" x="988" y="2625">ns3::Callback&lt; void &gt;</text></g>
<g id="wmc"><rect class="n" x="1385" y="2603" width="160" height="26"/><text class="m" x="1465" y="2620">WifiModulationClass</text></g>
<g id="tcrx"><rect class="n" x="860" y="2709" width="256" height="70"/><text x="868" y="2726">ns3::TracedCallback</text><text x="868" y="2741">&lt; ns3::Ptr&lt; const ns3</text><text x="868" y="2756">::Packet &gt;, RxPowerWattPerChannel</text><text class="m" x="988" y="2770">Band &gt;</text></g>
<g id="tctxt"><rect class="n" x="911" y="2803" width="153" height="56"/><text x="918" y="2820">ns3::TracedCallback</text><text x="918" y="2835">&lt; ns3::WifiTxVector,</text><text class="m" x="987" y="2850">ns3::Time &gt;</text></g>
<g id="tcfail"><rect class="n" x="886" y="2892" width="204" height="70"/><text x="893" y="2909">ns3::TracedCallback</text><text x="893" y="2924">&lt; ns3::Ptr&lt; const ns3</text><text x="893" y="2939">::Packet &gt;, WifiPhyRxfailure</text><text class="m" x="988" y="2953">Reason &gt;</text></g>
<g id="tcts"><rect class="n" x="398" y="2998" width="151" height="41"/><text x="405" y="3015">ns3::TracedCallback</text><text class="m" x="473" y="3030">&lt; Ts &gt;</text></g>
<g id="list"><rect class="r" x="5" y="3032" width="141" height="41"/><text x="12" y="3049">std::list&lt; Callback</text><text class="m" x="75" y="3064">&lt; void, Ts... &gt; &gt;</text></g>
<g id="tc6"><rect class="n" x="867" y="2985" width="241" height="100"/><text x="874" y="3002">ns3::TracedCallback</text><text x="874" y="3017">&lt; ns3::Ptr&lt; const ns3</text><text x="874" y="3032">::Packet &gt;, uint16_t,</text><text x="874" y="3046">ns3::WifiTxVector, ns3</text><text x="874" y="3061">::MpduInfo, ns3::SignalNoiseDbm,</text><text class="m" x="987" y="3076">uint16_t &gt;</text></g>
<g id="tc5"><rect class="n" x="903" y="3114" width="170" height="85"/><text x="910" y="3131">ns3::TracedCallback</text><text x="910" y="3146">&lt; ns3::Ptr&lt; const ns3</text><text x="910" y="3161">::Packet &gt;, uint16_t,</text><text x="910" y="3175">ns3::WifiTxVector, ns3</text><text class="m" x="988" y="3190">::MpduInfo, uint16_t &gt;</text></g>
<g id="tcpk"><rect class="n" x="906" y="3222" width="163" height="56"/><text x="913" y="3239">ns3::TracedCallback</text><text x="913" y="3254">&lt; ns3::Ptr&lt; const ns3</text><text class="m" x="987" y="3269">::Packet &gt; &gt;</text></g>
<g id="tcpsdu"><rect class="n" x="884" y="3331" width="207" height="56"/><text x="891" y="3348">ns3::TracedCallback</text><text x="891" y="3363">&lt; WifiConstPsduMap,</text><text class="m" x="987" y="3378">ns3::WifiTxVector, double &gt;</text></g>
<g id="tcbool"><rect class="n" x="896" y="3423" width="184" height="56"/><text x="903" y="3440">ns3::TracedCallback</text><text x="903" y="3455">&lt; bool, uint32_t, double,</text><text class="m" x="988" y="3470">ns3::Time &gt;</text></g>
</svg>
